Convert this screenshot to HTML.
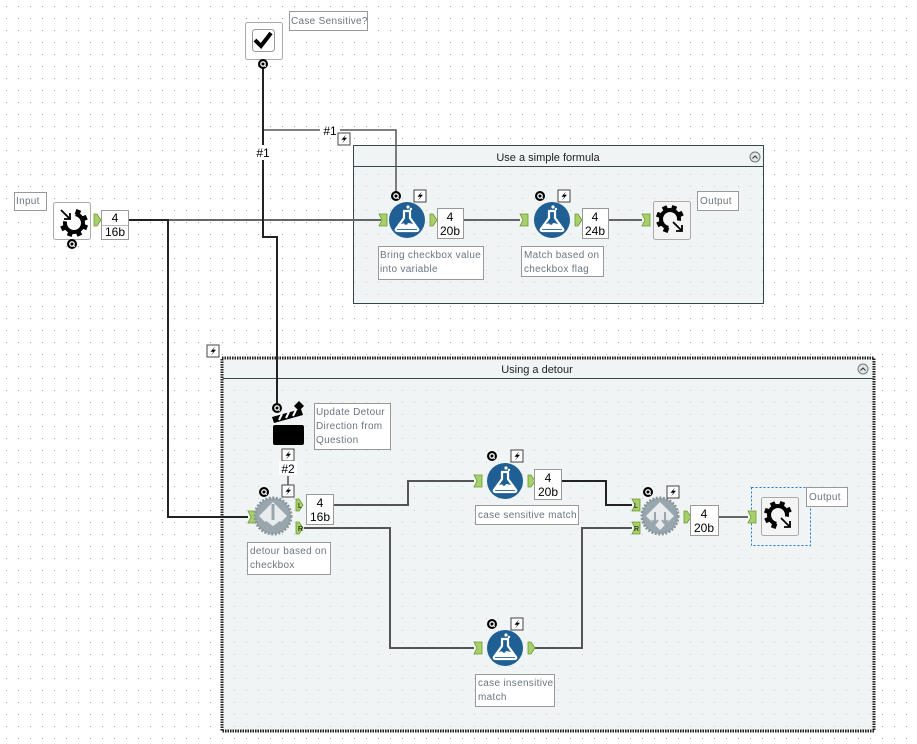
<!DOCTYPE html>
<html><head><meta charset="utf-8"><style>
html,body{margin:0;padding:0;background:#fff}
svg{display:block}
text{font-family:"Liberation Sans",sans-serif}
.lbl{font-size:10px;fill:#6a7680;letter-spacing:0.3px}
.num{font-size:12px;fill:#000}
</style></head><body>
<svg width="917" height="744" viewBox="0 0 917 744" xmlns="http://www.w3.org/2000/svg">
<defs>
<pattern id="dots" width="12" height="12" patternUnits="userSpaceOnUse" x="6" y="6">
<rect x="0" y="0" width="1" height="1" fill="#9aa0a6"/>
</pattern>
<pattern id="dots2" width="12" height="12" patternUnits="userSpaceOnUse" x="6" y="6">
<rect x="0" y="0" width="1" height="1" fill="#c6ccd0"/>
</pattern>
<g id="q"><circle r="5" fill="#000"/><circle r="2.2" fill="none" stroke="#fff" stroke-width="1.3"/><path d="M1,1 L2.8,2.8" stroke="#fff" stroke-width="1.2"/></g>
<g id="bolt"><rect x="-6" y="-6" width="12" height="12" fill="#fff" stroke="#444" stroke-width="1"/><path d="M2,-4.5 L-2.5,0.8 L0.3,0.8 L-2,4.5 L3,-1.2 L0.2,-1.2 Z" fill="#000"/></g>
<g id="in"><path d="M-4,-6 L4,-6 L4,6 L-4,6 L-1,0 Z" fill="#a8cf6a" stroke="#6a9a30" stroke-width="0.8"/></g>
<g id="out"><path d="M-3,-6 L0,-6 L4,0 L0,6 L-3,6 Z" fill="#a8cf6a" stroke="#6a9a30" stroke-width="0.8"/></g>
<g id="flask">
<circle r="18" fill="#1f5f93"/>
<path d="M-4,-9 L4,-9 M-3,-9 L-3,-2 L-11,9 Q-12,11 -9,11 L9,11 Q12,11 11,9 L3,-2 L3,-9" fill="none" stroke="#fff" stroke-width="2.2"/>
<path d="M-8,5 Q0,1 8,5 L10,9 L-10,9 Z" fill="#fff"/>
<circle cx="-1" cy="3" r="1.8" fill="#1f5f93"/>
<circle cx="1" cy="-13" r="1.6" fill="#fff"/><circle cx="4" cy="-11" r="1.2" fill="#fff"/>
</g>
<g id="cgear">
<path d="M1.6,-8.9 A9,9 0 1 1 -8.9,-1.6" fill="none" stroke="#000" stroke-width="4"/>
<g fill="#000">
<rect x="-2.5" y="-14" width="5" height="5" transform="rotate(20)"/>
<rect x="-2.5" y="-14" width="5" height="5" transform="rotate(65)"/>
<rect x="-2.5" y="-14" width="5" height="5" transform="rotate(110)"/>
<rect x="-2.5" y="-14" width="5" height="5" transform="rotate(155)"/>
<rect x="-2.5" y="-14" width="5" height="5" transform="rotate(200)"/>
<rect x="-2.5" y="-14" width="5" height="5" transform="rotate(245)"/>
</g>
</g>
<g id="grey">
<circle r="18" fill="#9aa6ad" stroke="#8a969d" stroke-width="3" stroke-dasharray="2 1.5"/>
<path d="M0,-14 L14,0 L0,14 L-14,0 Z" fill="#e8ecee"/>
</g>
</defs>
<rect width="917" height="744" fill="url(#dots)"/>

<!-- container 1 -->
<rect x="353.5" y="145.5" width="410" height="158" fill="#f0f4f5" stroke="#37474a" stroke-width="1"/>
<rect x="354" y="167" width="409" height="136" fill="url(#dots2)"/>
<line x1="353" y1="166.5" x2="763" y2="166.5" stroke="#37474a"/>
<text x="548" y="161" text-anchor="middle" style="font-size:11px;fill:#222">Use a simple formula</text>
<circle cx="755" cy="157" r="5" fill="#e0e4e6" stroke="#777"/><path d="M752.5,158.5 L755,156 L757.5,158.5" stroke="#333" fill="none"/>

<!-- container 2 -->
<rect x="222" y="358" width="652" height="373" fill="#f0f4f5" stroke="#222" stroke-width="3" stroke-dasharray="1.5 1"/>
<rect x="224" y="379" width="648" height="350" fill="url(#dots2)"/>
<line x1="223" y1="378.5" x2="873" y2="378.5" stroke="#37474a"/>
<text x="537" y="373" text-anchor="middle" style="font-size:11px;fill:#222">Using a detour</text>
<circle cx="863" cy="369" r="5" fill="#e0e4e6" stroke="#777"/><path d="M860.5,370.5 L863,368 L865.5,370.5" stroke="#333" fill="none"/>

<!-- connectors -->
<g fill="none" stroke-width="2">
<path d="M128,220 H381" stroke="#666"/>
<path d="M128,220 H168 V517 H248" stroke="#222"/>
<path d="M263,68 V145 M263,160 V237 H277 V403" stroke="#222"/>
<path d="M264,130 H320 M340,130 H396 V192" stroke="#555" stroke-width="1.5"/>
<path d="M463,220 H520" stroke="#666"/>
<path d="M608,220 H642" stroke="#666"/>
<path d="M288,476 V486" stroke="#555" stroke-width="1.5"/>
<path d="M333,505 H408 V481 H474" stroke="#555"/>
<path d="M561,481 H606 V505 H632" stroke="#222"/>
<path d="M304,528 H390 V648 H474" stroke="#555"/>
<path d="M535,648 H582 V528 H632" stroke="#555"/>
<path d="M718,517 H748" stroke="#666"/>
</g>
<rect x="322" y="124" width="16" height="13" fill="#fff"/>
<text x="330" y="135" text-anchor="middle" class="num">#1</text>
<rect x="255" y="146" width="16" height="13" fill="#fff"/>
<text x="263" y="157" text-anchor="middle" class="num">#1</text>
<use href="#bolt" x="344" y="139"/>

<!-- checkbox -->
<rect x="245.5" y="22.5" width="37" height="37" rx="2" fill="#fff" stroke="#aaa"/>
<rect x="252.5" y="29.5" width="22" height="22" rx="3" fill="#fff" stroke="#999"/>
<path d="M255,40 L261,46 L271,33" fill="none" stroke="#000" stroke-width="4"/>
<use href="#q" x="263" y="64"/>
<rect x="289.5" y="11.5" width="78" height="19" fill="#fff" stroke="#999"/>
<text x="291" y="24" class="lbl">Case Sensitive?</text>

<!-- input -->
<rect x="14.5" y="192.5" width="32" height="18" fill="#fff" stroke="#999"/>
<text x="16" y="204" class="lbl">Input</text>
<rect x="53.5" y="202.5" width="37" height="37" rx="2" fill="#fff" stroke="#aaa"/>
<use href="#cgear" x="74" y="223"/>
<path d="M61,210 L70,219 M70,213 V219 H64" stroke="#000" stroke-width="1.8" fill="none"/>
<use href="#q" x="72" y="244"/>
<use href="#out" x="97" y="220"/>
<rect x="101.5" y="210.5" width="27" height="29" fill="#fff" stroke="#999"/>
<line x1="102" y1="225.5" x2="128" y2="225.5" stroke="#bbb"/>
<text x="115" y="222" text-anchor="middle" class="num">4</text>
<text x="115" y="236" text-anchor="middle" class="num">16b</text>

<!-- formula 1 -->
<use href="#in" x="383" y="220"/>
<use href="#flask" x="407" y="220"/>
<use href="#q" x="396" y="196"/><use href="#bolt" x="420" y="196"/>
<use href="#out" x="433" y="220"/>
<rect x="437.5" y="208.5" width="26" height="30" fill="#fff" stroke="#999"/>
<text x="450" y="221" text-anchor="middle" class="num">4</text>
<text x="450" y="235" text-anchor="middle" class="num">20b</text>
<rect x="378.5" y="246.5" width="105" height="33" fill="#fff" stroke="#999"/>
<text x="380" y="258" class="lbl">Bring checkbox value</text>
<text x="380" y="272" class="lbl">into variable</text>

<!-- formula 2 -->
<use href="#in" x="524" y="220"/>
<use href="#flask" x="552" y="220"/>
<use href="#q" x="540" y="196"/><use href="#bolt" x="564" y="196"/>
<use href="#out" x="578" y="220"/>
<rect x="582.5" y="208.5" width="26" height="30" fill="#fff" stroke="#999"/>
<text x="595" y="221" text-anchor="middle" class="num">4</text>
<text x="595" y="235" text-anchor="middle" class="num">24b</text>
<rect x="521.5" y="246.5" width="82" height="30" fill="#fff" stroke="#999"/>
<text x="524" y="258" class="lbl">Match based on</text>
<text x="524" y="272" class="lbl">checkbox flag</text>

<!-- output 1 -->
<use href="#in" x="646" y="220"/>
<rect x="653.5" y="201.5" width="37" height="38" rx="2" fill="#f4f4f4" stroke="#aaa"/>
<use href="#cgear" transform="translate(670,219) rotate(180)"/>
<path d="M673,222 L682,231 M682,225 V231 H676" stroke="#000" stroke-width="1.8" fill="none"/>
<rect x="697.5" y="191.5" width="41" height="19" fill="#fff" stroke="#999"/>
<text x="700" y="204" class="lbl">Output</text>

<!-- clapper -->
<use href="#bolt" x="213" y="351"/>
<use href="#q" x="277" y="408"/>
<path d="M299,401 L304,406 L299,411 L294,406 Z" fill="#000"/>
<rect x="273" y="425" width="31" height="20" rx="2" fill="#000"/>
<path d="M272,417 L301,409 L303,415 L274,423 Z" fill="#000"/>
<path d="M279,420 l3,-6 M286,418 l3,-6 M293,416 l3,-6" stroke="#fff" stroke-width="2"/>
<path d="M276,425 l3,-0 M280,428 l4,-3" stroke="#fff" stroke-width="0"/>
<rect x="314.5" y="403.5" width="76" height="46" fill="#fff" stroke="#999"/>
<text x="316" y="415" class="lbl">Update Detour</text>
<text x="316" y="429" class="lbl">Direction from</text>
<text x="316" y="443" class="lbl">Question</text>
<use href="#bolt" x="288" y="455"/>
<rect x="279" y="461" width="18" height="14" fill="#fff"/>
<text x="288" y="473" text-anchor="middle" class="num">#2</text>
<use href="#bolt" x="288" y="491"/>

<!-- detour -->
<use href="#in" x="252" y="517"/>
<use href="#grey" x="273" y="516"/>
<path d="M273,504 V520 M265,522 L273,528 L281,522" stroke="#9aa6ad" stroke-width="3" fill="none"/>
<use href="#q" x="264" y="492"/>
<use href="#out" x="299" y="505"/><text x="298" y="508" style="font-size:7px">L</text>
<use href="#out" x="299" y="528"/><text x="298" y="531" style="font-size:7px">R</text>
<rect x="306.5" y="494.5" width="27" height="30" fill="#fff" stroke="#999"/>
<text x="320" y="507" text-anchor="middle" class="num">4</text>
<text x="320" y="521" text-anchor="middle" class="num">16b</text>
<rect x="247.5" y="542.5" width="83" height="32" fill="#fff" stroke="#999"/>
<text x="250" y="554" class="lbl">detour based on</text>
<text x="250" y="568" class="lbl">checkbox</text>

<!-- case sensitive -->
<use href="#in" x="478" y="481"/>
<use href="#flask" x="505" y="481"/>
<use href="#q" x="492" y="456"/><use href="#bolt" x="517" y="456"/>
<use href="#out" x="531" y="481"/>
<rect x="534.5" y="469.5" width="27" height="30" fill="#fff" stroke="#999"/>
<text x="548" y="482" text-anchor="middle" class="num">4</text>
<text x="548" y="496" text-anchor="middle" class="num">20b</text>
<rect x="475.5" y="505.5" width="103" height="19" fill="#fff" stroke="#999"/>
<text x="478" y="518" class="lbl">case sensitive match</text>

<!-- case insensitive -->
<use href="#in" x="478" y="648"/>
<use href="#flask" x="505" y="648"/>
<use href="#q" x="492" y="624"/><use href="#bolt" x="517" y="624"/>
<use href="#out" x="531" y="648"/>
<rect x="475.5" y="674.5" width="79" height="32" fill="#fff" stroke="#999"/>
<text x="478" y="686" class="lbl">case insensitive</text>
<text x="478" y="700" class="lbl">match</text>

<!-- union -->
<use href="#in" x="636" y="505"/><text x="634" y="508" style="font-size:7px">L</text>
<use href="#in" x="636" y="528"/><text x="634" y="531" style="font-size:7px">R</text>
<use href="#grey" x="660" y="516"/>
<path d="M655,512 V524 M665,512 V524 M652,520 L655,524 L658,520 M662,520 L665,524 L668,520" stroke="#9aa6ad" stroke-width="2" fill="none"/>
<use href="#q" x="648" y="492"/><use href="#bolt" x="673" y="492"/>
<use href="#out" x="687" y="517"/>
<rect x="690.5" y="505.5" width="28" height="30" fill="#fff" stroke="#999"/>
<text x="704" y="518" text-anchor="middle" class="num">4</text>
<text x="704" y="532" text-anchor="middle" class="num">20b</text>

<!-- output 2 -->
<rect x="751.5" y="487.5" width="59" height="58" fill="none" stroke="#1a7ad4" stroke-dasharray="2 2"/>
<use href="#in" x="752" y="517"/>
<rect x="761.5" y="497.5" width="37" height="38" rx="2" fill="#f4f4f4" stroke="#aaa"/>
<use href="#cgear" transform="translate(778,515) rotate(180)"/>
<path d="M781,518 L790,527 M790,521 V527 H784" stroke="#000" stroke-width="1.8" fill="none"/>
<rect x="806.5" y="487.5" width="41" height="19" fill="#fff" stroke="#999"/>
<text x="809" y="500" class="lbl">Output</text>
</svg>
</body></html>
